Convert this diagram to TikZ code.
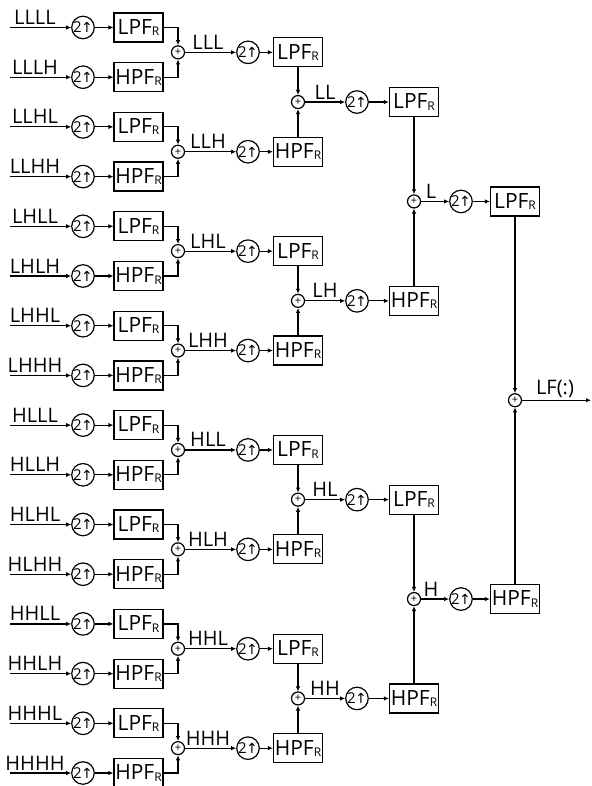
\documentclass[tikz,border=0pt]{standalone}
\usepackage{fontspec}
\setmainfont{Open Sans}
\newfontfamily\arrowfont{DejaVu Sans}
\usetikzlibrary{arrows.meta,calc}
\newcommand{\upsym}{2\hspace{-0.5pt}{\arrowfont\fontsize{14}{14}\selectfont ↑}}
\newcommand{\subR}{\raisebox{-1.2pt}{\fontsize{12}{12}\selectfont R}}
\begin{document}
\begin{tikzpicture}[x=1pt,y=-1pt,
  line width=1.2pt,
  >={Latex[length=5pt,width=4.5pt]},
  upbox/.style={circle,draw,minimum size=22pt,inner sep=0pt,font=\fontsize{15}{15}\selectfont},
  filt/.style={draw,minimum width=49pt,minimum height=29pt,inner sep=0pt,font=\fontsize{21}{21}\selectfont},
  sumnode/.style={circle,draw,minimum size=13pt,inner sep=0pt,font=\fontsize{11}{11}\selectfont},
  lab/.style={anchor=base,inner sep=0pt,font=\fontsize{20}{20}\selectfont},
]
\useasboundingbox (0,0) rectangle (591,786);
% ---------- level 1 ----------
\foreach \k/\t/\f in {0/LLLL/LPF,1/LLLH/HPF,2/LLHL/LPF,3/LLHH/HPF,4/LHLL/LPF,5/LHLH/HPF,6/LHHL/LPF,7/LHHH/HPF,
                      8/HLLL/LPF,9/HLLH/HPF,10/HLHL/LPF,11/HLHH/HPF,12/HHLL/LPF,13/HHLH/HPF,14/HHHL/LPF,15/HHHH/HPF}{
  \pgfmathsetmacro\yy{27.5+49.7*\k}
  \coordinate (in\k) at (10,\yy);
  \node[upbox] (ua\k) at (83,\yy) {\upsym};
  \node[filt] (fa\k) at (138.5,\yy) {\f\subR};
  \node[lab] (la\k) at (35,\yy-3) {\t};
  \draw[->] (in\k) -- (ua\k);
  \draw[->] (ua\k) -- (fa\k);
}
% ---------- level 2 ----------
\foreach \j/\t/\f in {0/LLL/LPF,1/LLH/HPF,2/LHL/LPF,3/LHH/HPF,4/HLL/LPF,5/HLH/HPF,6/HHL/LPF,7/HHH/HPF}{
  \pgfmathsetmacro\yy{52.35+99.4*\j}
  \pgfmathtruncatemacro\a{2*\j}
  \pgfmathtruncatemacro\b{2*\j+1}
  \node[sumnode] (sa\j) at (178,\yy) {+};
  \draw[->] (fa\a.east) -| (sa\j.north);
  \draw[->] (fa\b.east) -| (sa\j.south);
  \node[lab] (lb\j) at (208,\yy-3) {\t};
  \node[upbox] (ub\j) at (248,\yy) {\upsym};
  \node[filt] (fb\j) at (298,\yy) {\f\subR};
  \draw[->] (sa\j) -- (ub\j);
  \draw[->] (ub\j) -- (fb\j);
}
% ---------- level 3 ----------
\foreach \m/\t/\f in {0/LL/LPF,1/LH/HPF,2/HL/LPF,3/HH/HPF}{
  \pgfmathsetmacro\yy{102.05+198.8*\m}
  \pgfmathtruncatemacro\a{2*\m}
  \pgfmathtruncatemacro\b{2*\m+1}
  \node[sumnode] (sb\m) at (298,\yy) {+};
  \draw[->] (fb\a.south) -- (sb\m.north);
  \draw[->] (fb\b.north) -- (sb\m.south);
  \node[lab] (lc\m) at (325,\yy-3) {\t};
  \node[upbox] (uc\m) at (357,\yy) {\upsym};
  \node[filt] (fc\m) at (414,\yy) {\f\subR};
  \draw[->] (sb\m) -- (uc\m);
  \draw[->] (uc\m) -- (fc\m);
}
% ---------- level 4 ----------
\foreach \n/\t/\f in {0/L/LPF,1/H/HPF}{
  \pgfmathsetmacro\yy{201.45+397.6*\n}
  \pgfmathtruncatemacro\a{2*\n}
  \pgfmathtruncatemacro\b{2*\n+1}
  \node[sumnode] (sc\n) at (414,\yy) {+};
  \draw[->] (fc\a.south) -- (sc\n.north);
  \draw[->] (fc\b.north) -- (sc\n.south);
  \node[lab] (ld\n) at (431,\yy-3) {\t};
  \node[upbox] (ud\n) at (461,\yy) {\upsym};
  \node[filt] (fd\n) at (515,\yy) {\f\subR};
  \draw[->] (sc\n) -- (ud\n);
  \draw[->] (ud\n) -- (fd\n);
}
% ---------- output ----------
\node[sumnode] (sd) at (515,400.25) {+};
\draw[->] (fd0.south) -- (sd.north);
\draw[->] (fd1.north) -- (sd.south);
\node[lab] (lout) at (555,400.25-6) {LF(:)};
\coordinate (out) at (591,400.25);
\draw[->] (sd) -- (out);
\end{tikzpicture}
\end{document}
